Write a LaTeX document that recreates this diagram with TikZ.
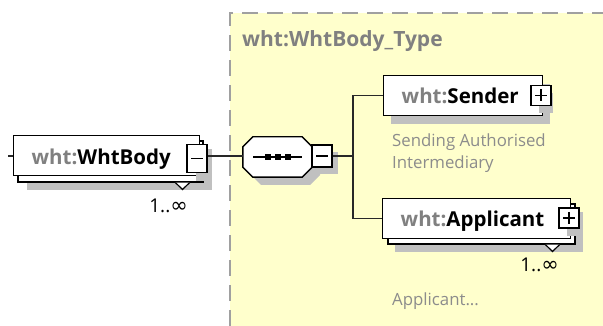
\documentclass[tikz,border=0pt]{standalone}
\usepackage{fontspec}
\setmainfont{Open Sans}
\newfontfamily\dejavu{DejaVu Sans}
\definecolor{bgyellow}{RGB}{255,255,204}
\definecolor{dashgray}{RGB}{160,160,160}
\definecolor{shgray}{RGB}{192,192,192}
\definecolor{nsgray}{RGB}{128,128,128}
\definecolor{descgray}{RGB}{140,140,140}
\definecolor{linegray}{RGB}{40,40,40}
\tikzset{
  elem/.style={draw=black, line width=1.4pt, fill=white, rectangle, minimum height=40pt, inner ysep=0pt, inner xsep=18pt, align=left, text height=16pt, text depth=0pt, anchor=north west, font=\fontsize{20.5}{24}\selectfont\bfseries},
  backbox/.style={draw=black, line width=1.4pt, fill=white},
  shadowbox/.style={fill=shgray, draw=none},
  pmbox/.style={draw=black, line width=1.4pt, fill=white, rectangle, inner sep=0pt, minimum width=20pt, minimum height=20pt},
  conn/.style={draw=linegray, line width=1.4pt},
  desc/.style={text=descgray, font=\fontsize{16.8}{21.5}\selectfont, inner sep=0pt},
  card/.style={font=\fontsize{19}{22}\selectfont, inner sep=0pt, anchor=base east},
  compo/.style={rectangle, draw=none, minimum width=69pt, minimum height=40pt, inner sep=0pt},
  octo/.style={draw=black, line width=1.4pt, fill=white},
}
\newcommand{\ns}[1]{\textcolor{nsgray}{#1}}
\newcommand{\infcard}{1..{\dejavu\fontsize{21}{22}\selectfont ∞}}
\begin{document}
\begin{tikzpicture}[x=1pt,y=-1pt]
\useasboundingbox (0,0) rectangle (603,326);
% type area
\path[fill=bgyellow] (230,13) rectangle (603,326);
\draw[dashgray, line width=1.8pt, dash pattern=on 16pt off 9pt] (230,326) -- (230,13) -- (603,13);
\node[anchor=base west, text=nsgray, font=\fontsize{21}{24}\selectfont\bfseries, inner sep=0pt] (tname) at (242,47) {wht:WhtBody\_Type};

% WhtBody element (multiple)
\path[shadowbox] (27,149) rectangle (212,190);
\draw[backbox] (18,141) rectangle (203,182);
\node[elem, text width=150pt, text height=17pt] (body) at (13,135) {\ns{wht:}WhtBody};
\path[shadowbox] (196,151) rectangle (212,181);
\node[pmbox, minimum width=20pt, minimum height=28pt] (bodyminus) at (197,158.5) {};
\draw[line width=1.4pt] (191,158.5) -- (203,158.5);
\path[fill=white] (175.5,182.7) -- (189.5,182.7) -- (182.5,189.5) -- cycle;
\draw[line width=1.2pt] (175.5,182.7) -- (182.5,189.5) -- (189.5,182.7);
\node[card] (bodycard) at (188,212.5) {\infcard};
\coordinate (stub) at (8,156);
\draw[conn] (stub) -- (stub -| body.west);

% sequence compositor
\path[shadowbox] (261,145) -- (310,145) -- (320,155) -- (320,175) -- (310,185) -- (261,185) -- (251,175) -- (251,155) -- cycle;
\node[compo] (seq) at (277.5,157) {};
\draw[octo] ([xshift=10pt]seq.north west) -- ([xshift=-10pt]seq.north east) -- ([yshift=-10pt]seq.north east) -- ([yshift=10pt]seq.south east) -- ([xshift=-10pt]seq.south east) -- ([xshift=10pt]seq.south west) -- ([yshift=10pt]seq.south west) -- ([yshift=-10pt]seq.north west) -- cycle;
\draw[line width=1.4pt] (253,157) -- (302,157);
\foreach \xx in {268,278,288} \fill (\xx-3,154) rectangle (\xx+3,160);
\path[shadowbox] (319,152) rectangle (338,174);
\node[pmbox, minimum width=20pt, minimum height=22pt] (seqminus) at (322,156) {};
\draw[line width=1.4pt] (316,156) -- (328,156);
\draw[conn] (bodyminus.east |- seqminus.west) -- (seq.west |- seqminus.west);

% Sender
\path[shadowbox] (391,84) rectangle (550,124);
\node[elem, text width=123pt] (sender) at (383,75) {\ns{wht:}Sender};
\path[shadowbox] (539,93) rectangle (553,113);
\node[pmbox] (senderplus) at (541,95.5) {};
\draw[line width=1.3pt] (535,95.5) -- (547,95.5) (541,89.5) -- (541,101.5);
\node[desc, anchor=base west] (senderdesc1) at (392,147) {Sending Authorised};
\node[desc, anchor=base west] (senderdesc2) at (392,168.5) {Intermediary};

% Applicant (multiple)
\path[shadowbox] (395,212) rectangle (583,252);
\draw[backbox] (388,204) rectangle (575,244);
\node[elem, text width=152pt] (appl) at (382,198) {\ns{wht:}Applicant};
\path[shadowbox] (567,215) rectangle (583,236);
\node[pmbox] (applplus) at (569,218) {};
\draw[line width=1.3pt] (563,218) -- (575,218) (569,212) -- (569,224);
\path[fill=white] (545.5,244.7) -- (559.5,244.7) -- (552.5,251.5) -- cycle;
\draw[line width=1.2pt] (545.5,244.7) -- (552.5,251.5) -- (559.5,244.7);
\node[card] (applcard) at (559,272) {\infcard};
\node[desc, anchor=base west] (appldesc) at (392,305) {Applicant...};

% connectors
\coordinate (jn) at (353,156);
\draw[conn] (seqminus.east) -- (jn);
\draw[conn] (jn) |- (sender.west);
\draw[conn] (jn) |- (appl.west);
\end{tikzpicture}
\end{document}
